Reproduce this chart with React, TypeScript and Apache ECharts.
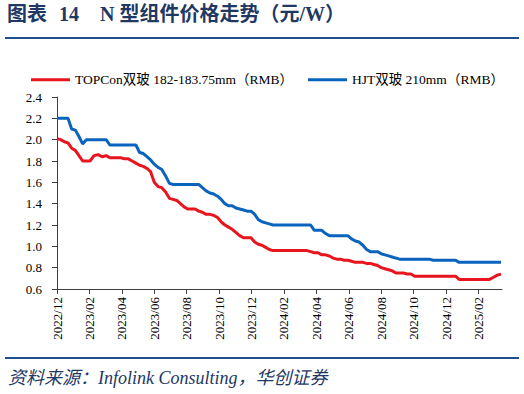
import React, { useEffect, useRef } from "react";
import * as echarts from "echarts";

// Weekly observations, first week starting 2022-12-01
const startDate = "2022-12-01";
const weekCount = 120;

const topconValues = [
  2.01, 2.0, 1.98, 1.97, 1.92, 1.9, 1.85, 1.8, 1.8, 1.8,
  1.85, 1.86, 1.84, 1.85, 1.83, 1.83, 1.83, 1.83, 1.82, 1.82,
  1.8, 1.78, 1.76, 1.75, 1.73, 1.7, 1.6, 1.56, 1.55, 1.51,
  1.45, 1.44, 1.43, 1.4, 1.37, 1.35, 1.35, 1.35, 1.33, 1.32,
  1.3, 1.3, 1.29, 1.27, 1.23, 1.2, 1.18, 1.16, 1.13, 1.1,
  1.08, 1.08, 1.08, 1.04, 1.02, 1.01, 0.99, 0.97, 0.96, 0.96,
  0.96, 0.96, 0.96, 0.96, 0.96, 0.96, 0.96, 0.96, 0.95, 0.94,
  0.94, 0.92, 0.92, 0.91, 0.89, 0.88, 0.88, 0.87, 0.87, 0.86,
  0.85, 0.85, 0.85, 0.84, 0.84, 0.83, 0.82, 0.8, 0.79, 0.78,
  0.77, 0.75, 0.75, 0.75, 0.74, 0.74, 0.72, 0.72, 0.72, 0.72,
  0.72, 0.72, 0.72, 0.72, 0.72, 0.72, 0.72, 0.72, 0.69, 0.69,
  0.69, 0.69, 0.69, 0.69, 0.69, 0.69, 0.69, 0.71, 0.73, 0.74,
];

const hjtValues = [
  2.2, 2.2, 2.2, 2.2, 2.1, 2.09, 2.03, 1.96, 2.0, 2.0,
  2.0, 2.0, 2.0, 2.0, 1.95, 1.95, 1.95, 1.95, 1.95, 1.95,
  1.95, 1.95, 1.88, 1.87, 1.84, 1.81, 1.77, 1.74, 1.72, 1.66,
  1.59, 1.58, 1.58, 1.58, 1.58, 1.58, 1.58, 1.58, 1.58, 1.55,
  1.52, 1.5, 1.49, 1.47, 1.44, 1.4, 1.38, 1.38, 1.36, 1.35,
  1.34, 1.33, 1.33, 1.3, 1.25, 1.23, 1.22, 1.21, 1.2, 1.2,
  1.2, 1.2, 1.2, 1.2, 1.2, 1.2, 1.2, 1.2, 1.2, 1.15,
  1.15, 1.15, 1.12, 1.1, 1.1, 1.1, 1.1, 1.1, 1.1, 1.07,
  1.05, 1.04, 1.01, 0.97, 0.95, 0.95, 0.95, 0.93, 0.92, 0.91,
  0.9, 0.89, 0.88, 0.88, 0.88, 0.88, 0.88, 0.88, 0.88, 0.88,
  0.88, 0.87, 0.87, 0.87, 0.87, 0.87, 0.87, 0.87, 0.85, 0.85,
  0.85, 0.85, 0.85, 0.85, 0.85, 0.85, 0.85, 0.85, 0.85, 0.85,
];

const seriesNames = ["TOPCon双玻 182-183.75mm（RMB）", "HJT双玻 210mm（RMB）"];
const tickMonths = [0, 2, 4, 6, 8, 10, 12, 14, 16, 18, 20, 22, 24, 26];
const yTicks = [0.6, 0.8, 1.0, 1.2, 1.4, 1.6, 1.8, 2.0, 2.2, 2.4];

const titleLeft = "图表";
const titleNum = "14";
const titleRight = "N 型组件价格走势（元/W）";
const sourceText = "资料来源：Infolink Consulting，华创证券";

const SERIF = "'Liberation Serif', 'Times New Roman', 'Noto Sans CJK SC', serif";

function monthIndex(d: Date): number {
  const y = d.getUTCFullYear();
  const mo = d.getUTCMonth();
  const day = d.getUTCDate();
  const dim = new Date(Date.UTC(y, mo + 1, 0)).getUTCDate();
  return (y - 2022) * 12 + (mo - 11) + (day - 1) / dim;
}

function monthLabel(n: number): string {
  const total = 2022 * 12 + 11 + Math.round(n);
  const y = Math.floor(total / 12);
  const m = (total % 12) + 1;
  return `${y}/${m < 10 ? "0" + m : m}`;
}

export default function App() {
  const ref = useRef<HTMLDivElement>(null);
  useEffect(() => {
    if (!ref.current) return;
    const chart = echarts.init(ref.current, undefined, { renderer: "svg" });
    const start = new Date(startDate + "T00:00:00Z").getTime();
    const xs: number[] = [];
    for (let k = 0; k < weekCount; k++) {
      xs.push(monthIndex(new Date(start + k * 7 * 86400000)));
    }
    const redData = topconValues.map((v, i) => [xs[i], v]);
    const blueData = hjtValues.map((v, i) => [xs[i], v]);

    chart.setOption({
      animation: false,
      backgroundColor: "#ffffff",
      grid: { left: 57, right: 22, top: 97, bottom: 105, containLabel: false },
      legend: [
        {
          data: [seriesNames[0]],
          left: 26,
          top: 68,
          icon: "rect",
          itemWidth: 39,
          itemHeight: 3,
          itemGap: 4,
          textStyle: { fontFamily: SERIF, fontSize: 13.5, color: "#000" },
        },
        {
          data: [seriesNames[1]],
          left: 303,
          top: 68,
          icon: "rect",
          itemWidth: 39,
          itemHeight: 3,
          textStyle: { fontFamily: SERIF, fontSize: 13.5, color: "#000" },
        },
      ],
      xAxis: {
        type: "value",
        min: 0,
        max: 27.45,
        interval: 2,
        splitLine: { show: false },
        axisLine: { show: true, onZero: false, lineStyle: { color: "#404040", width: 1 } },
        axisTick: { show: true, length: 5, customValues: tickMonths, lineStyle: { color: "#404040" } },
        axisLabel: {
          customValues: tickMonths,
          rotate: 90,
          margin: 8,
          fontFamily: SERIF,
          fontSize: 13,
          color: "#000",
          formatter: (v: number) => monthLabel(v),
        },
      },
      yAxis: {
        type: "value",
        min: 0.6,
        max: 2.4,
        interval: 0.2,
        splitLine: { show: false },
        axisLine: { show: true, onZero: false, lineStyle: { color: "#404040", width: 1 } },
        axisTick: { show: true, length: 5, lineStyle: { color: "#404040" } },
        axisLabel: {
          customValues: yTicks,
          margin: 15,
          fontFamily: SERIF,
          fontSize: 13,
          color: "#000",
          formatter: (v: number) => v.toFixed(1),
        },
      },
      series: [
        {
          name: seriesNames[0],
          type: "line",
          data: redData,
          symbol: "none",
          lineStyle: { color: "#E8141E", width: 3 },
          itemStyle: { color: "#E8141E" },
        },
        {
          name: seriesNames[1],
          type: "line",
          data: blueData,
          symbol: "none",
          lineStyle: { color: "#0A64BE", width: 3 },
          itemStyle: { color: "#0A64BE" },
        },
      ],
      graphic: [
        {
          type: "text",
          left: 7,
          top: 4,
          style: { text: titleLeft, font: `bold 20px ${SERIF}`, fill: "#1F3864" },
        },
        {
          type: "text",
          left: 59,
          top: 4,
          style: { text: titleNum, font: `bold 20px ${SERIF}`, fill: "#1F3864" },
        },
        {
          type: "text",
          left: 100,
          top: 4,
          style: { text: titleRight, font: `bold 20px ${SERIF}`, fill: "#1F3864" },
        },
        {
          type: "rect",
          shape: { x: 5, y: 37, width: 514, height: 2 },
          style: { fill: "#1F4E89" },
        },
        {
          type: "rect",
          shape: { x: 5, y: 357, width: 514, height: 2 },
          style: { fill: "#1F4E89" },
        },
        {
          type: "text",
          left: 8,
          top: 369,
          style: { text: sourceText, font: `italic 18px ${SERIF}`, fill: "#1F3864" },
        },
      ],
    });
    return () => chart.dispose();
  }, []);
  return <div ref={ref} style={{ width: 524, height: 394, position: "absolute", left: 0, top: 0 }} />;
}
